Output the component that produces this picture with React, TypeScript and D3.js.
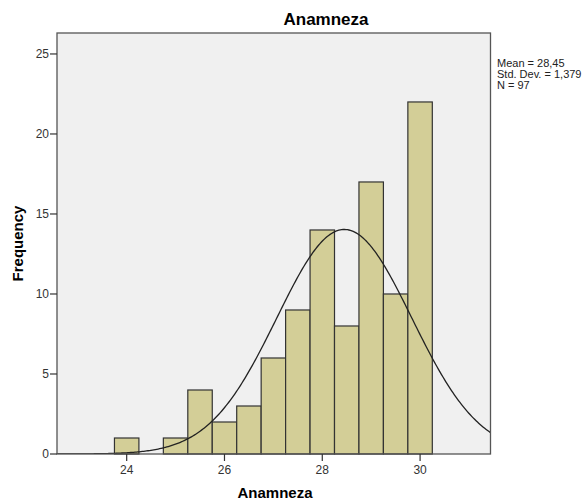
import React from "react";
import * as d3 from "d3";

const binCenters = [24, 25, 25.5, 26, 26.5, 27, 27.5, 28, 28.5, 29, 29.5, 30];
const counts = [1, 1, 4, 2, 3, 6, 9, 14, 8, 17, 10, 22];
const binWidth = 0.5;
const mean = 28.45;
const sd = 1.379;
const n = 97;
const xTicks = [24, 26, 28, 30];
const yTicks = [0, 5, 10, 15, 20, 25];
const statsLines = ["Mean = 28,45", "Std. Dev. = 1,379", "N = 97"];

const W = 588, H = 503;
const left = 57, right = 490.5, top = 33, bottom = 454;
const font = "Arial, 'Liberation Sans', sans-serif";

export default function App() {
  const x = d3.scaleLinear().domain([22.575, 31.44]).range([left, right]);
  const y = d3.scaleLinear().domain([0, 26.31]).range([bottom, top]);
  const pdf = (v: number) =>
    (n * binWidth) / (sd * Math.sqrt(2 * Math.PI)) * Math.exp(-((v - mean) ** 2) / (2 * sd * sd));
  const xs = d3.range(0, 301).map((i) => 22.575 + (i / 300) * (31.44 - 22.575));
  const line = d3.line<number>().x((v) => x(v)).y((v) => y(pdf(v))).curve(d3.curveLinear);
  return (
    <svg width={W} height={H} style={{ position: "absolute", left: 0, top: 0 }}>
      <rect x={0} y={0} width={W} height={H} fill="#fff" />
      <rect x={left} y={top} width={right - left} height={bottom - top} fill="#f0f0f0" />
      <defs>
        <clipPath id="plotclip">
          <rect x={left} y={top} width={right - left} height={bottom - top} />
        </clipPath>
      </defs>
      {binCenters.map((c, i) => (
        <rect
          key={i}
          x={x(c - binWidth / 2)}
          y={y(counts[i])}
          width={x(c + binWidth / 2) - x(c - binWidth / 2)}
          height={bottom - y(counts[i])}
          fill="#d3ce97"
          stroke="#333"
          strokeWidth={1.2}
        />
      ))}
      <path d={line(xs) || ""} fill="none" stroke="#222" strokeWidth={1.3} clipPath="url(#plotclip)" />
      <rect x={left} y={top} width={right - left} height={bottom - top} fill="none" stroke="#555" strokeWidth={1.3} />
      {yTicks.map((t) => (
        <g key={t}>
          <line x1={left - 7} x2={left} y1={y(t)} y2={y(t)} stroke="#333" strokeWidth={1.2} />
          <text x={left - 8} y={y(t)} dy="0.35em" textAnchor="end" fontSize={12} fontFamily={font} fill="#333">
            {t}
          </text>
        </g>
      ))}
      {xTicks.map((t) => (
        <g key={t}>
          <line x1={x(t)} x2={x(t)} y1={bottom} y2={bottom + 7} stroke="#333" strokeWidth={1.2} />
          <text x={x(t)} y={bottom + 20} textAnchor="middle" fontSize={12} fontFamily={font} fill="#333">
            {t}
          </text>
        </g>
      ))}
      <text x={326} y={25} textAnchor="middle" fontSize={17} fontWeight="bold" fontFamily={font} fill="#000">
        Anamneza
      </text>
      <text x={275} y={498} textAnchor="middle" fontSize={15} fontWeight="bold" fontFamily={font} fill="#000">
        Anamneza
      </text>
      <text
        transform={`translate(23,${(top + bottom) / 2}) rotate(-90)`}
        textAnchor="middle"
        fontSize={15}
        fontWeight="bold"
        fontFamily={font}
        fill="#000"
      >
        Frequency
      </text>
      {statsLines.map((s, i) => (
        <text key={i} x={497} y={67 + i * 11} fontSize={11} fontFamily={font} fill="#222">
          {s}
        </text>
      ))}
    </svg>
  );
}
